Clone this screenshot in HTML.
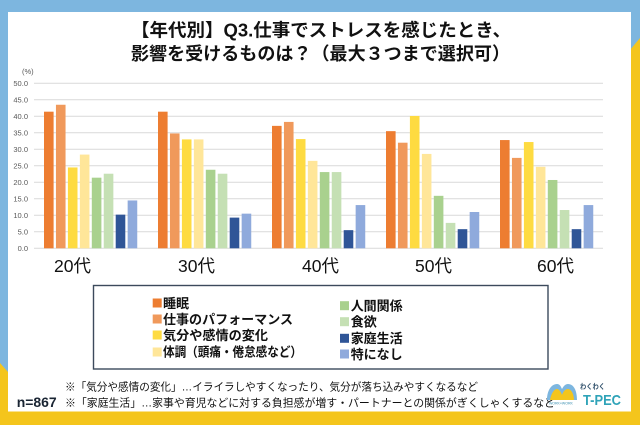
<!DOCTYPE html>
<html><head><meta charset="utf-8"><style>
html,body{margin:0;padding:0;background:#fff;}
svg{display:block;}
.jp{font-family:"Liberation Sans","Noto Sans CJK JP",sans-serif;}
</style></head><body>
<svg width="640" height="425" viewBox="0 0 640 425" xmlns="http://www.w3.org/2000/svg" class="jp">
<!-- background -->
<rect x="0" y="0" width="640" height="425" fill="#f4c51c"/>
<path d="M0,0 H640 V38 L630,50 V12 H8 V372 L0,363 Z" fill="#7db6df"/>
<rect x="8" y="12" width="623" height="399.5" fill="#ffffff"/>

<!-- title -->
<text x="321" y="36.5" font-size="18" font-weight="bold" text-anchor="middle" fill="#111" textLength="380" lengthAdjust="spacingAndGlyphs">【年代別】Q3.仕事でストレスを感じたとき、</text>
<text x="320.5" y="60" font-size="18" font-weight="bold" text-anchor="middle" fill="#111" textLength="379" lengthAdjust="spacingAndGlyphs">影響を受けるものは？（最大３つまで選択可）</text>

<text x="22" y="74" font-size="7.5" fill="#595959">(%)</text>

<!-- grid -->
<g stroke="#d9d9d9" stroke-width="1">
<line x1="34" x2="603" y1="248.3" y2="248.3"/>
<line x1="34" x2="603" y1="231.8" y2="231.8"/>
<line x1="34" x2="603" y1="215.3" y2="215.3"/>
<line x1="34" x2="603" y1="198.8" y2="198.8"/>
<line x1="34" x2="603" y1="182.3" y2="182.3"/>
<line x1="34" x2="603" y1="165.8" y2="165.8"/>
<line x1="34" x2="603" y1="149.3" y2="149.3"/>
<line x1="34" x2="603" y1="132.8" y2="132.8"/>
<line x1="34" x2="603" y1="116.3" y2="116.3"/>
<line x1="34" x2="603" y1="99.8" y2="99.8"/>
<line x1="34" x2="603" y1="83.3" y2="83.3"/>
</g>
<g font-size="7.5" fill="#595959" text-anchor="end" font-family="Liberation Sans, sans-serif">
<text x="28" y="250.9">0.0</text>
<text x="28" y="234.4">5.0</text>
<text x="28" y="217.9">10.0</text>
<text x="28" y="201.4">15.0</text>
<text x="28" y="184.9">20.0</text>
<text x="28" y="168.4">25.0</text>
<text x="28" y="151.9">30.0</text>
<text x="28" y="135.4">35.0</text>
<text x="28" y="118.9">40.0</text>
<text x="28" y="102.4">45.0</text>
<text x="28" y="85.9">50.0</text>
</g>

<!-- bars -->
<g transform="translate(0,248.3) scale(1,-1)">
<!-- 20代 -->
<rect x="44" y="0" width="9.6" height="136.62" fill="#ed7d31"/>
<rect x="55.95" y="0" width="9.6" height="143.55" fill="#f0995b"/>
<rect x="67.9" y="0" width="9.6" height="80.85" fill="#fedb41"/>
<rect x="79.85" y="0" width="9.6" height="93.72" fill="#ffe699"/>
<rect x="91.8" y="0" width="9.6" height="70.62" fill="#a9d18e"/>
<rect x="103.75" y="0" width="9.6" height="74.58" fill="#c5e0b4"/>
<rect x="115.7" y="0" width="9.6" height="33.66" fill="#2f5597"/>
<rect x="127.65" y="0" width="9.6" height="47.85" fill="#8faadc"/>
<!-- 30代 -->
<rect x="158" y="0" width="9.6" height="136.62" fill="#ed7d31"/>
<rect x="169.95" y="0" width="9.6" height="114.84" fill="#f0995b"/>
<rect x="181.9" y="0" width="9.6" height="108.9" fill="#fedb41"/>
<rect x="193.85" y="0" width="9.6" height="108.9" fill="#ffe699"/>
<rect x="205.8" y="0" width="9.6" height="78.54" fill="#a9d18e"/>
<rect x="217.75" y="0" width="9.6" height="74.58" fill="#c5e0b4"/>
<rect x="229.7" y="0" width="9.6" height="30.69" fill="#2f5597"/>
<rect x="241.65" y="0" width="9.6" height="34.65" fill="#8faadc"/>
<!-- 40代 -->
<rect x="272" y="0" width="9.6" height="122.43" fill="#ed7d31"/>
<rect x="283.95" y="0" width="9.6" height="126.39" fill="#f0995b"/>
<rect x="295.9" y="0" width="9.6" height="109.23" fill="#fedb41"/>
<rect x="307.85" y="0" width="9.6" height="87.45" fill="#ffe699"/>
<rect x="319.8" y="0" width="9.6" height="76.23" fill="#a9d18e"/>
<rect x="331.75" y="0" width="9.6" height="76.23" fill="#c5e0b4"/>
<rect x="343.7" y="0" width="9.6" height="18.15" fill="#2f5597"/>
<rect x="355.65" y="0" width="9.6" height="43.23" fill="#8faadc"/>
<!-- 50代 -->
<rect x="386" y="0" width="9.6" height="117.15" fill="#ed7d31"/>
<rect x="397.95" y="0" width="9.6" height="105.6" fill="#f0995b"/>
<rect x="409.9" y="0" width="9.6" height="132.33" fill="#fedb41"/>
<rect x="421.85" y="0" width="9.6" height="94.38" fill="#ffe699"/>
<rect x="433.8" y="0" width="9.6" height="52.47" fill="#a9d18e"/>
<rect x="445.75" y="0" width="9.6" height="25.41" fill="#c5e0b4"/>
<rect x="457.7" y="0" width="9.6" height="19.14" fill="#2f5597"/>
<rect x="469.65" y="0" width="9.6" height="36.3" fill="#8faadc"/>
<!-- 60代 -->
<rect x="500" y="0" width="9.6" height="108.24" fill="#ed7d31"/>
<rect x="511.95" y="0" width="9.6" height="90.42" fill="#f0995b"/>
<rect x="523.9" y="0" width="9.6" height="106.26" fill="#fedb41"/>
<rect x="535.85" y="0" width="9.6" height="81.51" fill="#ffe699"/>
<rect x="547.8" y="0" width="9.6" height="68.31" fill="#a9d18e"/>
<rect x="559.75" y="0" width="9.6" height="38.28" fill="#c5e0b4"/>
<rect x="571.7" y="0" width="9.6" height="19.14" fill="#2f5597"/>
<rect x="583.65" y="0" width="9.6" height="43.23" fill="#8faadc"/>
</g>

<!-- category labels -->
<g font-size="17.5" fill="#111">
<text x="54" y="272" textLength="37" lengthAdjust="spacingAndGlyphs">20代</text>
<text x="178" y="272" textLength="37" lengthAdjust="spacingAndGlyphs">30代</text>
<text x="302" y="272" textLength="37" lengthAdjust="spacingAndGlyphs">40代</text>
<text x="415" y="272" textLength="37" lengthAdjust="spacingAndGlyphs">50代</text>
<text x="537" y="272" textLength="37" lengthAdjust="spacingAndGlyphs">60代</text>
</g>

<!-- legend -->
<rect x="93.5" y="285.5" width="454.5" height="83.5" fill="#fff" stroke="#3c4a5c" stroke-width="1.4"/>
<g font-size="13" font-weight="bold" fill="#111">
<rect x="152.7" y="298.5" width="9" height="9" fill="#ed7d31"/>
<text x="163" y="308">睡眠</text>
<rect x="152.7" y="314.5" width="9" height="9" fill="#f0995b"/>
<text x="163" y="324" textLength="130" lengthAdjust="spacingAndGlyphs">仕事のパフォーマンス</text>
<rect x="152.7" y="330.5" width="9" height="9" fill="#fedb41"/>
<text x="163" y="340" textLength="105" lengthAdjust="spacingAndGlyphs">気分や感情の変化</text>
<rect x="152.7" y="347.5" width="9" height="9" fill="#ffe699"/>
<text x="163" y="356.5" textLength="139" lengthAdjust="spacingAndGlyphs">体調（頭痛・倦怠感など）</text>

<rect x="340" y="301.2" width="9" height="9" fill="#a9d18e"/>
<text x="350.7" y="310.5" textLength="52" lengthAdjust="spacingAndGlyphs">人間関係</text>
<rect x="340" y="317.2" width="9" height="9" fill="#c5e0b4"/>
<text x="350.7" y="326.5">食欲</text>
<rect x="340" y="333.8" width="9" height="9" fill="#2f5597"/>
<text x="350.7" y="343" textLength="52" lengthAdjust="spacingAndGlyphs">家庭生活</text>
<rect x="340" y="349.5" width="9" height="9" fill="#8faadc"/>
<text x="350.7" y="358.8" textLength="52" lengthAdjust="spacingAndGlyphs">特になし</text>
</g>

<!-- footnotes -->
<g font-size="11" fill="#111">
<text x="65" y="390.7" textLength="413" lengthAdjust="spacingAndGlyphs">※「気分や感情の変化」…イライラしやすくなったり、気分が落ち込みやすくなるなど</text>
<text x="65" y="406.5" textLength="490" lengthAdjust="spacingAndGlyphs">※「家庭生活」…家事や育児などに対する負担感が増す・パートナーとの関係がぎくしゃくするなど</text>
</g>
<text x="16.7" y="407" font-size="14" font-weight="bold" fill="#1a2533" font-family="Liberation Sans, sans-serif" textLength="40" lengthAdjust="spacingAndGlyphs">n=867</text>

<!-- logo -->
<g>
<path d="M547,400 C547,391 551,384 557,384 C560,384 561,387 562,389 C563,387 565,384 568,384 C574,384 577,391 577,400 Z" fill="#7db6df"/>
<path d="M550,400 C551,394 554,389 557,389 C559,389 561,392 562,395 C563,392 565,389 568,389 C571,389 574,394 574,400 Z" fill="#f4c51c"/>
<text x="549" y="404.5" font-size="3.5" fill="#3a8fb0" font-family="Liberation Sans, sans-serif">WORK×WORK</text>
<text x="580" y="389" font-size="7.5" font-weight="bold" fill="#2f4f6a" textLength="25" lengthAdjust="spacingAndGlyphs">わくわく</text>
<text x="583" y="405" font-size="15" font-weight="bold" fill="#2fa3b8" font-family="Liberation Sans, sans-serif" textLength="38" lengthAdjust="spacingAndGlyphs">T-PEC</text>
</g>
</svg>
</body></html>
